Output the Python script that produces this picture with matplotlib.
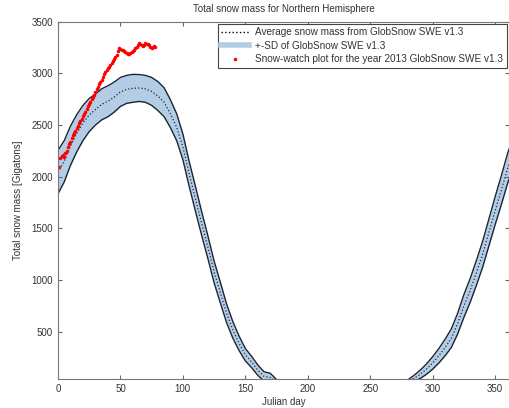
import numpy as np
import matplotlib
matplotlib.use("Agg")
import matplotlib.pyplot as plt
from matplotlib.lines import Line2D

plt.rcParams['font.family'] = ['Liberation Sans', 'DejaVu Sans']

# climatology, every 5 days; summer = no snow
days = [0, 5, 10, 15, 20, 25, 30, 35, 40, 45, 50, 55, 60, 65, 70, 75, 80, 85, 90,
        95, 100, 105, 110, 115, 120, 125, 130, 135, 140, 145, 150, 155, 160, 165,
        170, 175, 180, 185, 190, 195, 200, 205, 210, 215, 220, 225, 230, 235, 240,
        245, 250, 255, 260, 265, 270, 275, 280, 285, 290, 295, 300, 305, 310, 315,
        320, 325, 330, 335, 340, 345, 350, 355, 360, 365]
mean_swe = [2045, 2150, 2300, 2420, 2520, 2597, 2650, 2700, 2730, 2770, 2820, 2845,
            2855, 2858, 2850, 2825, 2780, 2720, 2610, 2480, 2290, 2030, 1790, 1550,
            1320, 1080, 880, 680, 520, 390, 280, 210, 130, 70, 60, 20,
            0, 0, 0, 0, 0, 0, 0, 0, 0, 0, 0, 0, 0, 0, 0, 0, 0, 0, 0, 0,
            20, 50, 90, 140, 200, 270, 350, 440, 580, 750, 900, 1070, 1250, 1460,
            1670, 1870, 2080, 2250]
sd_swe = [210, 200, 190, 180, 170, 160, 150, 150, 150, 145, 140, 135, 135, 130, 130,
          135, 140, 140, 135, 130, 125, 120, 120, 115, 110, 105, 100, 90, 80, 70,
          60, 55, 50, 45, 40, 20,
          0, 0, 0, 0, 0, 0, 0, 0, 0, 0, 0, 0, 0, 0, 0, 0, 0, 0, 0, 0,
          15, 30, 40, 50, 60, 70, 80, 90, 100, 110, 115, 120, 125, 130, 135, 140,
          145, 150]

# 2013 snow-watch values
days_2013 = list(range(1, 79))
swe_2013 = [2095, 2180, 2200, 2210, 2195, 2230, 2250, 2290, 2320, 2340,
            2370, 2400, 2420, 2440, 2470, 2490, 2515, 2540, 2560, 2585,
            2610, 2630, 2655, 2680, 2700, 2725, 2750, 2775, 2790, 2820,
            2845, 2870, 2895, 2915, 2940, 2965, 2990, 3010, 3030, 3050,
            3065, 3085, 3095, 3120, 3140, 3155, 3175, 3215, 3240, 3235,
            3225, 3230, 3215, 3205, 3200, 3185, 3190, 3200, 3210, 3215,
            3225, 3240, 3255, 3270, 3290, 3280, 3270, 3260, 3275, 3290,
            3285, 3280, 3270, 3250, 3240, 3255, 3260, 3250]

d = np.array(days)
m = np.array(mean_swe, dtype=float)
s = np.array(sd_swe, dtype=float)
upper = m + s
lower = m - s

fig = plt.figure(figsize=(5.1, 4.08), dpi=100)
ax = fig.add_axes([0.1137, 0.0711, 0.884, 0.876])

band_col = '#b4cde6'
edge_col = '#1c2632'
txt_col = '#333333'

ax.fill_between(d, lower, upper, color=band_col, lw=0)
ax.plot(d, upper, color=edge_col, lw=1.0)
ax.plot(d, lower, color=edge_col, lw=1.0)
ax.plot(d, m, color=edge_col, lw=0.9, ls=':')
ax.plot(days_2013, swe_2013, ls='none', marker='.', ms=3, color='red')

ax.set_xlim(0, 361)
ax.set_ylim(45, 3500)
ax.set_xticks(range(0, 351, 50))
ax.set_yticks(range(500, 3501, 500))
ax.tick_params(direction='in', top=True, right=True, labelsize=7,
               colors='#666666', labelcolor=txt_col, length=3)
for sp in ax.spines.values():
    sp.set_color('#777777')
    sp.set_linewidth(0.8)

ax.set_title('Total snow mass for Northern Hemisphere', fontsize=7, color=txt_col, pad=7)
ax.set_xlabel('Julian day', fontsize=7, color=txt_col, labelpad=2)
ax.set_ylabel('Total snow mass [Gigatons]', fontsize=7, color=txt_col, labelpad=6)

handles = [Line2D([], [], color='black', ls=':', lw=1.0),
           Line2D([], [], color=band_col, lw=4),
           Line2D([], [], color='red', ls='none', marker='.', ms=3)]
labels = ['Average snow mass from GlobSnow SWE v1.3',
          '+-SD of GlobSnow SWE v1.3',
          'Snow-watch plot for the year 2013 GlobSnow SWE v1.3']
leg = ax.legend(handles, labels, loc='upper right', fontsize=7.2, fancybox=False,
                edgecolor='#444444', framealpha=1, handlelength=2.8,
                labelspacing=0.35, borderpad=0.35, borderaxespad=0.2,
                handletextpad=0.6)
leg.get_frame().set_linewidth(0.8)
for t in leg.get_texts():
    t.set_color(txt_col)

fig.savefig('out.png', dpi=100)
